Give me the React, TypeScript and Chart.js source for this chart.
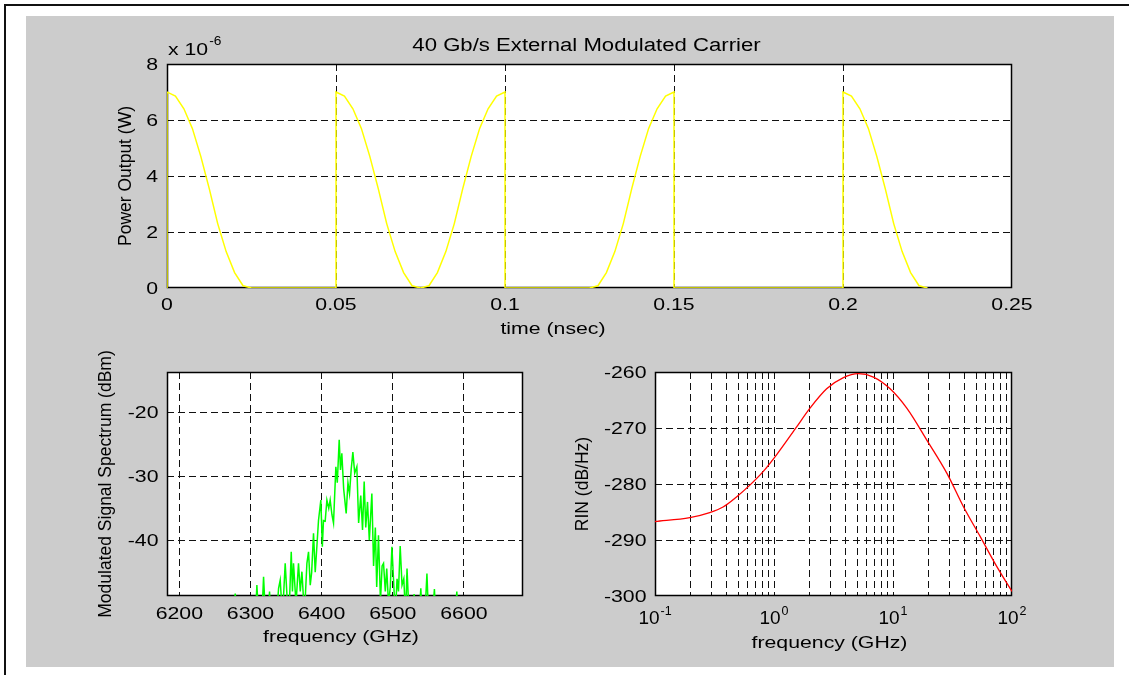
import React, { useEffect, useRef } from 'react';
import { Chart, registerables } from 'chart.js';

Chart.register(...registerables);

// ---------------- DATA ----------------
// Top panel: optical power (in units of 1e-6 W) versus time (ns)
const timeNs = [
  0, 0, 0.0025, 0.005, 0.0075, 0.01, 0.0125, 0.015, 0.0175, 0.02, 0.0225, 0.025,
  0.05, 0.05, 0.0525, 0.055, 0.0575, 0.06, 0.0625, 0.065, 0.0675, 0.07, 0.0725, 0.075,
  0.0775, 0.08, 0.0825, 0.085, 0.0875, 0.09, 0.0925, 0.095, 0.0975, 0.1,
  0.1, 0.125, 0.1275, 0.13, 0.1325, 0.135, 0.1375, 0.14, 0.1425, 0.145, 0.1475, 0.15,
  0.15, 0.2, 0.2, 0.2025, 0.205, 0.2075, 0.21, 0.2125, 0.215, 0.2175, 0.22, 0.2225, 0.225,
];
const powerMicroW = [
  0, 7, 6.85, 6.4, 5.7, 4.7, 3.55, 2.3, 1.3, 0.55, 0.08, 0,
  0, 7, 6.85, 6.4, 5.7, 4.7, 3.55, 2.3, 1.3, 0.55, 0.08, 0,
  0.08, 0.55, 1.3, 2.3, 3.55, 4.7, 5.7, 6.4, 6.85, 7,
  0, 0, 0.08, 0.55, 1.3, 2.3, 3.55, 4.7, 5.7, 6.4, 6.85, 7,
  0, 0, 7, 6.85, 6.4, 5.7, 4.7, 3.55, 2.3, 1.3, 0.55, 0.08, 0,
];
const timeTicks = [0, 0.05, 0.1, 0.15, 0.2, 0.25];
const timeTickLabels = ['0', '0.05', '0.1', '0.15', '0.2', '0.25'];
const powerTicks = [0, 2, 4, 6, 8];
const powerTickLabels = ['0', '2', '4', '6', '8'];

// Bottom-left panel: modulated signal spectrum (dBm) versus frequency (GHz)
const specFreqGHz = [
  6183, 6230, 6272, 6278.6, 6284, 6300, 6306, 6309, 6313, 6316, 6318.4, 6322, 6325, 6326.8, 6330,
  6336, 6339.5, 6341.8, 6345, 6348.8, 6352, 6355, 6357.3, 6359, 6360.5, 6364, 6367.5, 6370, 6372.3,
  6375, 6377, 6379.3, 6381.6, 6384, 6386, 6388.6, 6391, 6393.3, 6395.6, 6398.9, 6401, 6402.6, 6405,
  6407.4, 6410, 6412, 6414.5, 6416.7, 6420, 6422, 6424.7, 6426.5, 6428.4, 6431, 6434.5, 6437, 6439.2,
  6441.5, 6443.9, 6446.5, 6449.5, 6452, 6455, 6457.5, 6459.8, 6462, 6464.5, 6467, 6470.6, 6473,
  6475.5, 6477.4, 6479.9, 6482.7, 6485, 6487, 6489.5, 6491.5, 6494, 6496.5, 6498.8, 6501, 6503.5,
  6506, 6508, 6510.4, 6513, 6515.5, 6518, 6520, 6523, 6527, 6530, 6533, 6537, 6539.4, 6542, 6545,
  6548, 6551, 6555, 6558.5, 6562, 6570, 6580, 6586, 6590, 6593, 6620, 6683,
];
const specDbm = [
  -62, -60, -57, -48.3, -57, -60, -55, -47, -55, -52, -45.7, -54, -52, -48, -55,
  -53, -47.5, -46.2, -52, -43.6, -50, -49, -41.8, -48, -43.6, -50, -43.6, -48, -44.9,
  -50, -49, -43.6, -41.8, -47, -45, -38.9, -45, -41, -36.9, -33.7, -41, -36.9, -37,
  -33.7, -35, -33.7, -36, -37.3, -28.5, -31, -24.3, -29, -26.4, -32, -35.8, -31, -32.7,
  -29, -26.2, -29.5, -28.5, -37.3, -33, -38.4, -30.8, -38, -34, -40, -32.7, -44,
  -38, -47.3, -39.2, -49.5, -44, -43.6, -48, -44.4, -50, -47.3, -41, -46, -52,
  -46, -48, -40.9, -47, -46, -52, -44.4, -52, -56, -48.4, -56, -52, -47.5, -54, -52,
  -45.2, -54, -53, -47.6, -56, -60, -58, -55, -48, -56, -61, -62,
];
const specFreqTicks = [6200, 6300, 6400, 6500, 6600];
const specDbmTicks = [-20, -30, -40];

// Bottom-right panel: RIN (dB/Hz) versus frequency (GHz), log axis
const rinFreqGHz = [0.1, 0.196, 0.288, 0.373, 0.484, 0.627, 0.81, 1.05, 1.55, 2.0, 2.77, 3.83, 5.12, 6.85, 9.46, 13.1, 19.3, 28.4, 39.2, 54.1, 74.8, 100];
const rinDbHz = [-286.7, -286.0, -285.1, -284.1, -282.3, -280.2, -277.8, -274.8, -269.8, -266.5, -263.0, -261.0, -260.3, -260.9, -263.0, -266.5, -272.2, -278.1, -284.1, -289.4, -294.8, -299.2];
const rinDecades = [0.1, 1, 10, 100];
const rinDecadeExponents = ['-1', '0', '1', '2'];
const rinMantissas = [1, 2, 3, 4, 5, 6, 7, 8, 9];
const rinDbTicks = [-300, -290, -280, -270, -260];

// ---------------- STYLE HELPERS ----------------
const FONT = '"Liberation Sans", Arial, Helvetica, sans-serif';
const SX = 1.25;
const GRID = '#111111';
const DASH = [7, 4];

type Rect = { left: number; top: number; width: number; height: number };
type Box = { left: number; top: number; right: number; bottom: number };

function drawText(ctx: CanvasRenderingContext2D, s: string, x: number, y: number, size: number, align: CanvasTextAlign = 'center', sx = SX) {
  ctx.save();
  ctx.font = `${size}px ${FONT}`;
  ctx.fillStyle = '#000';
  ctx.textAlign = align;
  ctx.textBaseline = 'alphabetic';
  ctx.translate(x, y);
  ctx.scale(sx, 1);
  ctx.fillText(s, 0, 0);
  ctx.restore();
}

function textWidth(ctx: CanvasRenderingContext2D, s: string, size: number, sx = SX) {
  ctx.save();
  ctx.font = `${size}px ${FONT}`;
  const w = ctx.measureText(s).width * sx;
  ctx.restore();
  return w;
}

function drawVText(ctx: CanvasRenderingContext2D, s: string, x: number, y: number, size: number) {
  ctx.save();
  ctx.font = `${size}px ${FONT}`;
  ctx.fillStyle = '#000';
  ctx.textAlign = 'center';
  ctx.textBaseline = 'alphabetic';
  ctx.translate(x, y);
  ctx.rotate(-Math.PI / 2);
  ctx.fillText(s, 0, 0);
  ctx.restore();
}

function decorPlugin(drawTexts: (chart: any) => void) {
  return {
    id: 'decor',
    beforeDraw(chart: any) {
      const { ctx, chartArea: a } = chart;
      ctx.save();
      ctx.fillStyle = '#ffffff';
      ctx.fillRect(a.left, a.top, a.right - a.left, a.bottom - a.top);
      ctx.restore();
    },
    beforeDatasetsDraw(chart: any) {
      const { ctx, chartArea: a } = chart;
      ctx.save();
      ctx.strokeStyle = '#000';
      ctx.lineWidth = 1.5;
      ctx.setLineDash([]);
      ctx.strokeRect(a.left + 0.5, a.top + 0.5, a.right - a.left - 1, a.bottom - a.top - 1);
      ctx.restore();
    },
    afterDraw(chart: any) {
      drawTexts(chart);
    },
  };
}

// grid lines are drawn only for interior ticks; the box edges are drawn by the plugin
function axis(horizontal: boolean, tickValues: number[], min: number, max: number, extra: any) {
  return {
    display: true,
    min,
    max,
    ticks: { display: false },
    grid: { color: GRID, lineWidth: 1, drawTicks: false },
    border: { display: false, dash: DASH },
    afterBuildTicks: (s: any) => {
      const eps = (max - min) * 1e-6;
      s.ticks = tickValues.filter((v) => v > min + eps && v < max - eps).map((v) => ({ value: v }));
    },
    afterFit: (s: any) => {
      if (horizontal) s.height = 0;
      else s.width = 0;
    },
    ...extra,
  };
}

function baseOptions(padding: any, scales: any) {
  return {
    responsive: true,
    maintainAspectRatio: false,
    animation: false,
    events: [],
    layout: { padding },
    plugins: { legend: { display: false }, tooltip: { enabled: false }, title: { display: false } },
    scales,
  };
}

function PanelChart({ rect, box, build }: { rect: Rect; box: Box; build: (padding: any) => any }) {
  const ref = useRef<HTMLCanvasElement>(null);
  useEffect(() => {
    const padding = {
      left: box.left - rect.left,
      top: box.top - rect.top,
      right: rect.left + rect.width - box.right,
      bottom: rect.top + rect.height - box.bottom,
    };
    const chart = new Chart(ref.current as HTMLCanvasElement, build(padding));
    return () => chart.destroy();
  }, []);
  return (
    <div style={{ position: 'absolute', left: rect.left, top: rect.top, width: rect.width, height: rect.height }}>
      <canvas ref={ref} />
    </div>
  );
}

// ---------------- PANELS ----------------
function buildTop(padding: any) {
  const xTicks = timeTicks;
  const yTicks = powerTicks;
  return {
    type: 'line',
    data: {
      datasets: [
        {
          data: timeNs.map((t, i) => ({ x: t, y: powerMicroW[i] })),
          borderColor: '#ffff00',
          borderWidth: 1.5,
          pointRadius: 0,
          tension: 0,
          fill: false,
        },
      ],
    },
    options: baseOptions(padding, {
      x: axis(true, xTicks, 0, 0.25, { type: 'linear' }),
      y: axis(false, yTicks, 0, 8, { type: 'linear' }),
    }),
    plugins: [
      decorPlugin((chart: any) => {
        const { ctx, chartArea: a, scales } = chart;
        xTicks.forEach((v, i) => drawText(ctx, timeTickLabels[i], scales.x.getPixelForValue(v), a.bottom + 21.5, 17));
        yTicks.forEach((v, i) => drawText(ctx, powerTickLabels[i], a.left - 9, scales.y.getPixelForValue(v) + 6, 17, 'right'));
        drawText(ctx, '40 Gb/s External Modulated Carrier', (a.left + a.right) / 2 - 3, a.top - 13, 18, 'center', 1.23);
        const x0 = a.left + 1;
        drawText(ctx, 'x 10', x0, a.top - 9, 17, 'left');
        const w = textWidth(ctx, 'x 10', 17);
        drawText(ctx, '-6', x0 + w + 1, a.top - 19, 12.5, 'left', 1.1);
        drawText(ctx, 'time (nsec)', a.left + 386, a.bottom + 46, 17);
        drawVText(ctx, 'Power Output (W)', a.left - 36, (a.top + a.bottom) / 2, 17.5);
      }),
    ],
  };
}

function buildSpectrum(padding: any) {
  const xTicks = specFreqTicks;
  const yTicks = specDbmTicks;
  return {
    type: 'line',
    data: {
      datasets: [
        {
          data: specFreqGHz.map((f, i) => ({ x: f, y: specDbm[i] })),
          borderColor: '#00ff00',
          borderWidth: 1.5,
          pointRadius: 0,
          tension: 0,
          fill: false,
        },
      ],
    },
    options: baseOptions(padding, {
      x: axis(true, xTicks, 6182.7, 6683, { type: 'linear' }),
      y: axis(false, yTicks, -48.7, -13.7, { type: 'linear' }),
    }),
    plugins: [
      decorPlugin((chart: any) => {
        const { ctx, chartArea: a, scales } = chart;
        xTicks.forEach((v) => drawText(ctx, String(v), scales.x.getPixelForValue(v), a.bottom + 22.5, 17));
        yTicks.forEach((v) => drawText(ctx, String(v), a.left - 8.5, scales.y.getPixelForValue(v) + 6, 17, 'right'));
        drawText(ctx, 'frequency (GHz)', (a.left + a.right) / 2 - 4, a.bottom + 45.5, 17);
        drawVText(ctx, 'Modulated Signal Spectrum (dBm)', a.left - 56, (a.top + a.bottom) / 2, 17.5);
      }),
    ],
  };
}

function buildRin(padding: any) {
  const gridTicks: number[] = [];
  rinDecades.slice(0, 3).forEach((d) => rinMantissas.forEach((m) => gridTicks.push(m * d)));
  gridTicks.push(rinDecades[3]);
  const yTicks = rinDbTicks;
  return {
    type: 'line',
    data: {
      datasets: [
        {
          data: rinFreqGHz.map((f, i) => ({ x: f, y: rinDbHz[i] })),
          borderColor: '#ff0000',
          borderWidth: 1.3,
          pointRadius: 0,
          cubicInterpolationMode: 'monotone',
          fill: false,
        },
      ],
    },
    options: baseOptions(padding, {
      x: axis(true, gridTicks, 0.1, 100, { type: 'logarithmic' }),
      y: axis(false, yTicks, -300, -260, { type: 'linear' }),
    }),
    plugins: [
      decorPlugin((chart: any) => {
        const { ctx, chartArea: a, scales } = chart;
        rinDecades.forEach((d, i) => {
          const px = scales.x.getPixelForValue(d);
          const wb = textWidth(ctx, '10', 19, 1);
          const we = textWidth(ctx, rinDecadeExponents[i], 12.5, 1);
          const start = px - (wb + 1 + we) / 2;
          drawText(ctx, '10', start, a.bottom + 28, 19, 'left', 1);
          drawText(ctx, rinDecadeExponents[i], start + wb + 1, a.bottom + 18.5, 12.5, 'left', 1);
        });
        yTicks.forEach((v) => drawText(ctx, String(v), a.left - 8.5, scales.y.getPixelForValue(v) + 6, 17, 'right'));
        drawText(ctx, 'frequency (GHz)', (a.left + a.right) / 2 - 4, a.bottom + 52, 17);
        drawVText(ctx, 'RIN (dB/Hz)', a.left - 67, (a.top + a.bottom) / 2, 17.5);
      }),
    ],
  };
}

export default function App() {
  return (
    <div style={{ position: 'absolute', left: 0, top: 0, width: 1129, height: 675, background: '#ffffff', overflow: 'hidden' }}>
      <div
        style={{
          position: 'absolute',
          left: 4,
          top: 4,
          width: 1140,
          height: 690,
          borderTop: '2px solid #111',
          borderLeft: '2px solid #111',
        }}
      />
      <div style={{ position: 'absolute', left: 26, top: 16, width: 1088, height: 651, background: '#cccccc' }} />
      <PanelChart rect={{ left: 30, top: 20, width: 1080, height: 340 }} box={{ left: 167, top: 64, right: 1012, bottom: 288 }} build={buildTop} />
      <PanelChart rect={{ left: 30, top: 340, width: 520, height: 325 }} box={{ left: 167, top: 372, right: 523, bottom: 596 }} build={buildSpectrum} />
      <PanelChart rect={{ left: 560, top: 340, width: 550, height: 325 }} box={{ left: 655, top: 372, right: 1012, bottom: 596 }} build={buildRin} />
    </div>
  );
}
